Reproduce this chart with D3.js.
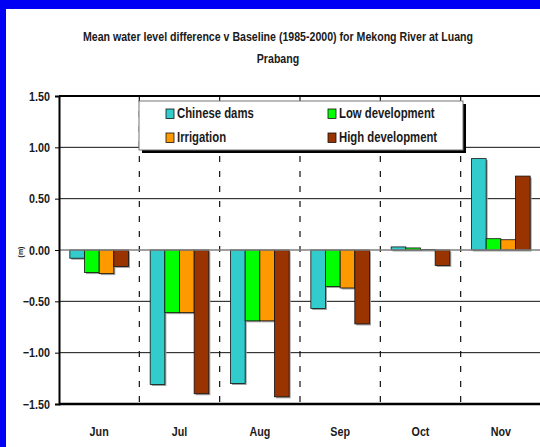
<!DOCTYPE html>
<meta charset="utf-8">
<style>
  body { margin: 0; padding: 0; background: #fff; }
  svg { display: block; }
  text { font-family: "Liberation Sans", Arial, sans-serif; font-weight: bold; fill: #1a1a1a; }
</style>
<script src="https://cdn.jsdelivr.net/npm/d3@7"></script>
<body>
<div id="chart"></div>
<script>
// data
var months = ["Jun", "Jul", "Aug", "Sep", "Oct", "Nov"];
var seriesNames = ["Chinese dams", "Low development", "Irrigation", "High development"];
var seriesColors = ["#33cccc", "#00ff00", "#ff9900", "#993300"];
var chineseDams = [-0.08, -1.31, -1.30, -0.57, 0.03, 0.89];
var lowDev = [-0.22, -0.61, -0.69, -0.355, 0.02, 0.11];
var irrigation = [-0.23, -0.61, -0.69, -0.37, 0.005, 0.10];
var highDev = [-0.16, -1.40, -1.43, -0.72, -0.15, 0.72];
var yTicks = [1.5, 1.0, 0.5, 0.0, -0.5, -1.0, -1.5];

var allSeries = [chineseDams, lowDev, irrigation, highDev];

var W = 540, H = 447;
var margin = {top: 96, right: -1, bottom: 43, left: 59};
var plotW = W - margin.left - margin.right,
    plotH = H - margin.top - margin.bottom;

var svg = d3.select("#chart").append("svg")
    .attr("width", W).attr("height", H);

// blue frame (top and left only)
svg.append("rect").attr("x", 0).attr("y", 0).attr("width", W).attr("height", 9).attr("fill", "#0000f5");
svg.append("rect").attr("x", 0).attr("y", 0).attr("width", 6).attr("height", H).attr("fill", "#0000f5");

// squeeze text horizontally about its anchor x, the original font is narrow
function squeeze(sel, k) {
  sel.each(function() {
    var x = +this.getAttribute("x") || 0;
    d3.select(this).attr("transform",
      "translate(" + x + ",0) scale(" + k + ",1) translate(" + (-x) + ",0)");
  });
}

// title
svg.append("text").attr("x", 278).attr("y", 41).attr("text-anchor", "middle")
    .style("font-size", "13.5px")
    .text("Mean water level difference v Baseline (1985-2000) for Mekong River at Luang")
    .call(squeeze, 0.785);
svg.append("text").attr("x", 278).attr("y", 63).attr("text-anchor", "middle")
    .style("font-size", "13.5px")
    .text("Prabang")
    .call(squeeze, 0.785);

var g = svg.append("g").attr("transform", "translate(" + margin.left + "," + margin.top + ")");

var x0 = d3.scaleBand().domain(months).range([0, plotW]).paddingInner(0.27).paddingOuter(0.135);
var x1 = d3.scaleBand().domain(d3.range(seriesNames.length)).range([0, x0.bandwidth()]);
var y = d3.scaleLinear().domain([-1.5, 1.5]).range([plotH, 0]);
var step = x0.step();

// gridlines
g.selectAll(".grid").data(yTicks.filter(function(d) { return d !== 0 && Math.abs(d) !== 1.5; }))
  .enter().append("line")
    .attr("x1", 0).attr("x2", plotW + 2)
    .attr("y1", function(d) { return y(d); }).attr("y2", function(d) { return y(d); })
    .attr("stroke", "#111").attr("stroke-width", 1);

// dashed month dividers
g.selectAll(".div").data(d3.range(1, months.length))
  .enter().append("line")
    .attr("x1", function(i) { return i * step; }).attr("x2", function(i) { return i * step; })
    .attr("y1", 0).attr("y2", plotH)
    .attr("stroke", "#111").attr("stroke-width", 1.2)
    .attr("stroke-dasharray", "6,9");

// bars
var bars = [];
months.forEach(function(m, i) {
  allSeries.forEach(function(s, j) {
    bars.push({month: m, k: j, v: s[i]});
  });
});

g.selectAll(".shadow").data(bars).enter().append("rect")
    .attr("x", function(d) { return x0(d.month) + x1(d.k) + 1.5; })
    .attr("y", function(d) { return y(Math.max(0, d.v)) + 1.5; })
    .attr("width", x1.bandwidth())
    .attr("height", function(d) { return Math.abs(y(d.v) - y(0)); })
    .attr("fill", "#a0a0a0");

g.selectAll(".bar").data(bars).enter().append("rect")
    .attr("x", function(d) { return x0(d.month) + x1(d.k); })
    .attr("y", function(d) { return y(Math.max(0, d.v)); })
    .attr("width", x1.bandwidth())
    .attr("height", function(d) { return Math.abs(y(d.v) - y(0)); })
    .attr("fill", function(d) { return seriesColors[d.k]; })
    .attr("stroke", "#111").attr("stroke-width", 0.8);

// zero line
g.append("line").attr("x1", 0).attr("x2", plotW + 2).attr("y1", y(0)).attr("y2", y(0))
    .attr("stroke", "#808080").attr("stroke-width", 1.5);

// frame: top, bottom
g.append("line").attr("x1", 0).attr("x2", plotW + 2).attr("y1", 0).attr("y2", 0)
    .attr("stroke", "#000").attr("stroke-width", 2);
g.append("line").attr("x1", 0).attr("x2", plotW + 2).attr("y1", plotH).attr("y2", plotH)
    .attr("stroke", "#000").attr("stroke-width", 2.5);

// y axis
var yAxis = g.append("g").call(d3.axisLeft(y).tickValues(yTicks).tickSize(4).tickPadding(5)
    .tickFormat(d3.format(".2f")));
yAxis.select(".domain").attr("stroke", "#000").attr("stroke-width", 2);
yAxis.selectAll(".tick line").attr("stroke", "#000");
yAxis.selectAll("text").style("font-size", "12.5px").attr("fill", "#1a1a1a")
    .style("font-family", null).call(squeeze, 0.86);

// y label
svg.append("text").attr("transform", "translate(23,252) rotate(-90)")
    .attr("text-anchor", "middle").style("font-size", "7px").text("(m)");

// x labels
g.selectAll(".xl").data(months).enter().append("text")
    .attr("x", function(d) { return x0(d) + x0.bandwidth() / 2; })
    .attr("y", plotH + 32)
    .attr("text-anchor", "middle").style("font-size", "12.5px")
    .text(function(d) { return d; })
    .call(squeeze, 0.86);

// legend
var lg = svg.append("g").attr("transform", "translate(139,101)");
lg.append("rect").attr("x", 3).attr("y", 3).attr("width", 324).attr("height", 49).attr("fill", "#000");
lg.append("rect").attr("x", 0).attr("y", 0).attr("width", 324).attr("height", 49)
    .attr("fill", "#fff").attr("stroke", "#777").attr("stroke-width", 1);
var legendPos = [[27, 8], [189, 8], [27, 32], [189, 32]];
seriesNames.forEach(function(name, k) {
  var p = legendPos[k];
  lg.append("rect").attr("x", p[0]).attr("y", p[1]).attr("width", 8).attr("height", 9.5)
      .attr("fill", seriesColors[k]).attr("stroke", "#111").attr("stroke-width", 0.8);
  lg.append("text").attr("x", p[0] + 11).attr("y", p[1] + 9.5)
      .style("font-size", "14px").text(name).call(squeeze, 0.81);
});
</script>
</body>
